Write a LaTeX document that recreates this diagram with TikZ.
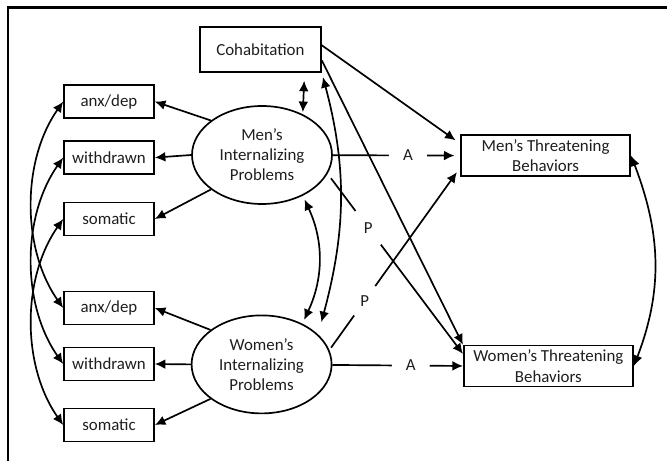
\documentclass[tikz,border=0pt]{standalone}
\usepackage{fontspec}
\setmainfont{Carlito}
\usetikzlibrary{arrows.meta, shapes.geometric}
\definecolor{semtext}{RGB}{30,30,30}

\begin{document}
\begin{tikzpicture}[
  obs/.style={
    draw, line width=1.2pt,
    minimum width=2.25cm, minimum height=0.83cm,
    font=\fontsize{12}{14.4}\selectfont, text=semtext
  },
  outcome/.style={obs, minimum width=4.23cm, minimum height=1.02cm, align=center, inner sep=1pt},
  latent/.style={
    draw, ellipse, line width=1.2pt,
    minimum width=3.5cm, minimum height=2.45cm, inner sep=0pt,
    align=center, font=\fontsize{12}{14.2}\selectfont, text=semtext
  },
  coef/.style={circle, fill=white, inner sep=0pt, minimum size=0.95cm, font=\fontsize{12}{14}\selectfont, text=semtext},
  arrow/.style={-{Latex[length=7.5pt,width=7pt]}, line width=1.2pt},
  dbl/.style={{Latex[length=7.5pt,width=7pt]}-{Latex[length=7.5pt,width=7pt]}, line width=1.2pt}
]
  \useasboundingbox (0,0) rectangle (16.675,-11.525);
  \draw[line width=2pt] (16.675,-0.19) -- (0.2,-0.19) -- (0.2,-11.525);

  \node[obs, minimum width=3.03cm, minimum height=1.13cm] (Cohab) at (6.51,-1.24) {Cohabitation};

  \node[obs] (anx1) at (2.725,-2.54) {anx/dep};
  \node[obs] (wd1) at (2.725,-3.94) {withdrawn};
  \node[obs] (som1) at (2.725,-5.475) {somatic};
  \node[obs] (anx2) at (2.725,-7.7) {anx/dep};
  \node[obs] (wd2) at (2.725,-9.1) {withdrawn};
  \node[obs] (som2) at (2.725,-10.625) {somatic};

  \node[latent] (Men) at (6.55,-3.875) {Men’s\\Internalizing\\Problems};
  \node[latent] (Women) at (6.54,-9.11) {Women’s\\Internalizing\\Problems};

  \node[outcome] (MT) at (13.64,-3.89) {Men’s Threatening\\Behaviors};
  \node[outcome] (WT) at (13.71,-9.15) {Women’s Threatening\\Behaviors};

  % measurement part
  \draw[arrow] (Men.146) -- (anx1.east);
  \draw[arrow] (Men.west) -- (wd1.east);
  \draw[arrow] (Men.214) -- (som1.east);
  \draw[arrow] (Women.146) -- (anx2.east);
  \draw[arrow] (Women.west) -- (wd2.east);
  \draw[arrow] (Women.214) -- (som2.east);

  \draw[dbl] (anx1.west) to[out=235, in=125, looseness=.9] (anx2.west);
  \draw[dbl] (wd1.west) to[out=235, in=125, looseness=.9] (wd2.west);
  \draw[dbl] (som1.west) to[out=235, in=125, looseness=.9] (som2.west);

  % covariances
  \draw[dbl, shorten <=5.5pt, shorten >=1.5pt] (Cohab.-28) -- (Men.45);
  \draw[dbl, shorten <=3pt, shorten >=3pt] (Men.-45) to[out=-65, in=65] (Women.45);
  \draw[dbl, shorten <=3pt, shorten >=9pt] (Cohab.south east) to[out=-75, in=75] (Women.28);
  \draw[dbl] (MT.east) to[out=-69, in=69] (WT.east);

  % actor and partner paths
  \draw[arrow, shorten >=4pt] (Cohab.4) -- (MT.172);
  \draw[arrow] (Cohab.-10) -- (WT.north west);
  \draw[arrow, shorten >=4pt] (Men) -- node[coef, pos=.59] {A} (MT.west);
  \draw[arrow] (Women) -- node[coef, pos=.6] {A} (WT.west);
  \draw[arrow, shorten <=4pt] (Men.-16) -- node[coef, pos=.3, minimum size=1.05cm] {P} (WT.172);
  \draw[arrow, shorten <=2pt, shorten >=4pt] (Women.12) -- node[coef, pos=.27, minimum size=0.9cm] {P} (MT.188);
\end{tikzpicture}
\end{document}
